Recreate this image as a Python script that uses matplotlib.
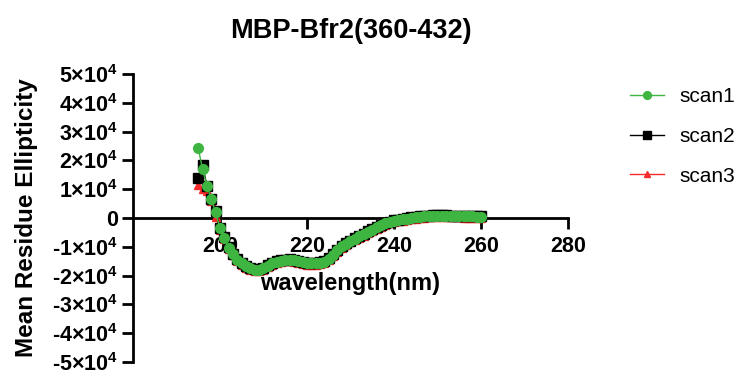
import numpy as np
import matplotlib.pyplot as plt

plt.rcParams['font.family'] = ['Liberation Sans', 'DejaVu Sans']
plt.rcParams['mathtext.fontset'] = 'custom'
plt.rcParams['mathtext.rm'] = 'Liberation Sans:bold'
plt.rcParams['mathtext.bf'] = 'Liberation Sans:bold'
plt.rcParams['mathtext.it'] = 'Liberation Sans:bold'

# wavelength in nm, 1 nm steps
wavelength = np.arange(195, 261)

# mean residue ellipticity, in units of 1e4
scan1 = [2.42, 1.69, 1.11, 0.66, 0.20, -0.36, -0.68, -1.03, -1.25, -1.45,
         -1.58, -1.68, -1.75, -1.79, -1.79, -1.74, -1.66, -1.58, -1.52, -1.48,
         -1.46, -1.45, -1.47, -1.50, -1.54, -1.57, -1.58, -1.58, -1.56, -1.52,
         -1.42, -1.28, -1.12, -0.98, -0.89, -0.80, -0.72, -0.64, -0.56, -0.48,
         -0.40, -0.32, -0.25, -0.19, -0.14, -0.10, -0.07, -0.04, -0.02, 0.01,
         0.03, 0.05, 0.06, 0.07, 0.08, 0.08, 0.08, 0.08, 0.07, 0.07,
         0.07, 0.06, 0.06, 0.06, 0.05, 0.04]
scan2_start = [1.40, 1.85, 1.10, 0.65, 0.24]
scan3_start = [1.15, 1.02, 0.92, 0.60, 0.05]

s1 = np.array(scan1) * 1e4
s2 = np.array(scan2_start + scan1[5:]) * 1e4
s2[5:] += 150
s3 = np.array(scan3_start + scan1[5:]) * 1e4
s3[5:] -= 500

yticks = [5e4, 4e4, 3e4, 2e4, 1e4, 0, -1e4, -2e4, -3e4, -4e4, -5e4]
ytick_labels = ['5×$10^{4}$', '4×$10^{4}$', '3×$10^{4}$', '2×$10^{4}$', '1×$10^{4}$', '0',
                '-1×$10^{4}$', '-2×$10^{4}$', '-3×$10^{4}$', '-4×$10^{4}$', '-5×$10^{4}$']
xticks = [200, 220, 240, 260, 280]

fig = plt.figure(figsize=(7.51, 3.81), dpi=100)
ax = fig.add_axes([0.1771, 0.0499, 0.5792, 0.7559])

ax.plot(wavelength, s3, color='#F52A2A', marker='^', markersize=5.5, lw=1, label='scan3', zorder=3)
ax.plot(wavelength, s2, color='black', marker='s', markersize=6.5, lw=1, label='scan2', zorder=4)
ax.plot(wavelength, s1, color='#3DB540', marker='o', markersize=7, lw=1, label='scan1', zorder=5)

ax.set_xlim(180, 280)
ax.set_ylim(-5e4, 5e4)
ax.spines['top'].set_visible(False)
ax.spines['right'].set_visible(False)
ax.spines['bottom'].set_position(('data', 0))
for sp in ['left', 'bottom']:
    ax.spines[sp].set_linewidth(2)
ax.set_xticks(xticks)
ax.set_yticks(yticks)
ax.set_yticklabels(ytick_labels)
ax.tick_params(width=2, length=8, labelsize=15.5)
ax.tick_params(axis='x', pad=5)
ax.tick_params(axis='y', pad=3)
for lab in ax.get_xticklabels() + ax.get_yticklabels():
    lab.set_fontweight('bold')

ax.set_title('MBP-Bfr2(360-432)', fontsize=19.5, fontweight='bold', pad=26)
ax.set_ylabel('Mean Residue Ellipticity', fontsize=17.5, fontweight='bold', labelpad=10)
ax.set_xlabel('wavelength(nm)', fontsize=17, fontweight='bold', labelpad=11)

h, l = ax.get_legend_handles_labels()
ax.legend(h[::-1], l[::-1], loc='upper left', bbox_to_anchor=(1.1, 1.02), frameon=False,
          fontsize=15, labelspacing=1.0, handlelength=1.6, handletextpad=0.75, markerscale=0.8)

fig.savefig('out.png', dpi=100)
